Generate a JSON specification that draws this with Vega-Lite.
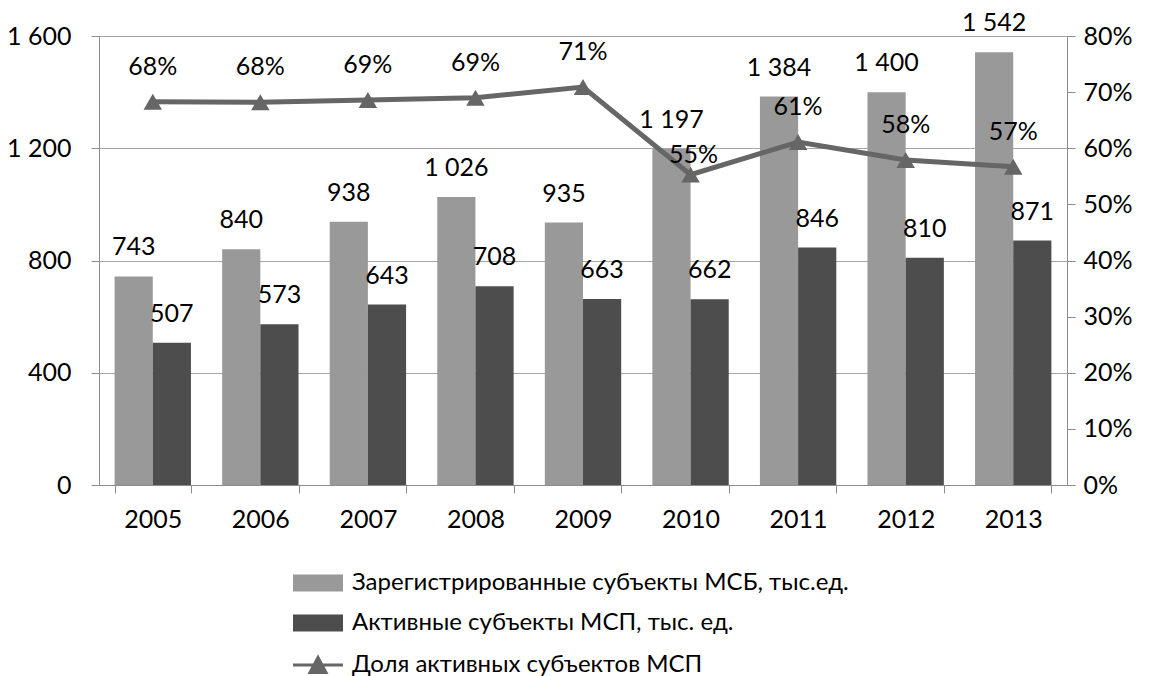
{
  "$schema": "https://vega.github.io/schema/vega-lite/v6.json",
  "autosize": {"type": "none"},
  "width": 968,
  "height": 449,
  "padding": {"left": 99, "top": 36, "right": 82, "bottom": 191},
  "background": "white",
  "config": {
    "font": "Lato",
    "view": {"stroke": null},
    "locale": {"number": {"decimal": ",", "thousands": " ", "grouping": [3], "currency": ["", " ₽"]}},
    "axis": {
      "labelFont": "Lato",
      "labelFontSize": 25,
      "labelColor": "#000000",
      "domainColor": "#8c8c8c",
      "tickColor": "#8c8c8c",
      "gridColor": "#a6a6a6",
      "tickSize": 8,
      "title": null
    }
  },
  "data": {
    "values": [
      {"year": "2005", "reg": 743, "act": 507, "share": 0.683},
      {"year": "2006", "reg": 840, "act": 573, "share": 0.682},
      {"year": "2007", "reg": 938, "act": 643, "share": 0.686},
      {"year": "2008", "reg": 1026, "act": 708, "share": 0.690},
      {"year": "2009", "reg": 935, "act": 663, "share": 0.709},
      {"year": "2010", "reg": 1197, "act": 662, "share": 0.553},
      {"year": "2011", "reg": 1384, "act": 846, "share": 0.611},
      {"year": "2012", "reg": 1400, "act": 810, "share": 0.579},
      {"year": "2013", "reg": 1542, "act": 871, "share": 0.567}
    ]
  },
  "layer": [
    {
      "transform": [{"fold": ["reg", "act"], "as": ["series", "value"]}],
      "encoding": {
        "x": {
          "field": "year",
          "type": "nominal",
          "scale": {"paddingInner": 0.29, "paddingOuter": 0.145},
          "axis": {"labelAngle": 0, "tickBand": "extent", "labelPadding": 14, "grid": false}
        },
        "xOffset": {"field": "series", "type": "nominal", "scale": {"domain": ["reg", "act"], "paddingInner": 0, "paddingOuter": 0}},
        "y": {
          "field": "value",
          "type": "quantitative",
          "scale": {"domain": [0, 1600]},
          "axis": {"values": [0, 400, 800, 1200, 1600], "format": ",.0f", "grid": true, "labelPadding": 20}
        }
      },
      "layer": [
        {
          "mark": {"type": "bar"},
          "encoding": {
            "color": {
              "field": "series",
              "type": "nominal",
              "scale": {"domain": ["reg", "act", "share"], "range": ["#999999", "#4d4d4d", "#666666"]},
              "legend": {
                "orient": "none",
                "legendX": 207,
                "legendY": 535,
                "direction": "vertical",
                "title": null,
                "labelFont": "Lato",
                "labelFontSize": 24,
                "labelColor": "#000000",
                "labelLimit": 0,
                "labelOffset": 22,
                "symbolSize": 2500,
                "rowPadding": 16,
                "labelExpr": "datum.value === 'reg' ? 'Зарегистрированные  субъекты МСБ, тыс.ед.' : datum.value === 'act' ? 'Активные субъекты МСП, тыс. ед.' : 'Доля активных субъектов МСП'",
                "encode": {
                  "symbols": {
                    "update": {
                      "shape": {"signal": "datum.value === 'share' ? 'M-1,0H1M-0.32,0.3L0,-0.3L0.32,0.3Z' : 'M-1,-0.34H1V0.34H-1Z'"},
                      "fill": {"scale": "color", "field": "value"},
                      "stroke": {"scale": "color", "field": "value"},
                      "strokeWidth": {"signal": "datum.value === 'share' ? 3 : 0"},
                      "fillOpacity": {"value": 1},
                      "opacity": {"value": 1}
                    }
                  }
                }
              }
            }
          }
        },
        {
          "mark": {"type": "text", "baseline": "alphabetic", "dy": -21, "fontSize": 25, "color": "#000000"},
          "encoding": {"text": {"field": "value", "type": "quantitative", "format": ","}}
        }
      ]
    },
    {
      "encoding": {
        "x": {"field": "year", "type": "nominal"},
        "y": {
          "field": "share",
          "type": "quantitative",
          "scale": {"domain": [0, 0.8]},
          "axis": {"orient": "right", "values": [0, 0.1, 0.2, 0.3, 0.4, 0.5, 0.6, 0.7, 0.8], "format": ".0%", "grid": false, "labelPadding": 8}
        }
      },
      "layer": [
        {
          "mark": {"type": "line", "strokeWidth": 5},
          "encoding": {"color": {"datum": "share", "type": "nominal"}}
        },
        {
          "mark": {"type": "point", "shape": "triangle-up", "filled": true, "size": 340, "opacity": 1},
          "encoding": {"color": {"datum": "share", "type": "nominal"}}
        },
        {
          "transform": [{"filter": "datum.year !== '2010'"}],
          "mark": {"type": "text", "baseline": "alphabetic", "dy": -27, "fontSize": 25, "color": "#000000"},
          "encoding": {"text": {"field": "share", "type": "quantitative", "format": ".0%"}}
        },
        {
          "transform": [{"filter": "datum.year === '2010'"}],
          "mark": {"type": "text", "baseline": "alphabetic", "dy": -12, "dx": 3, "fontSize": 25, "color": "#000000"},
          "encoding": {"text": {"field": "share", "type": "quantitative", "format": ".0%"}}
        }
      ]
    }
  ],
  "resolve": {"scale": {"y": "independent"}}
}
